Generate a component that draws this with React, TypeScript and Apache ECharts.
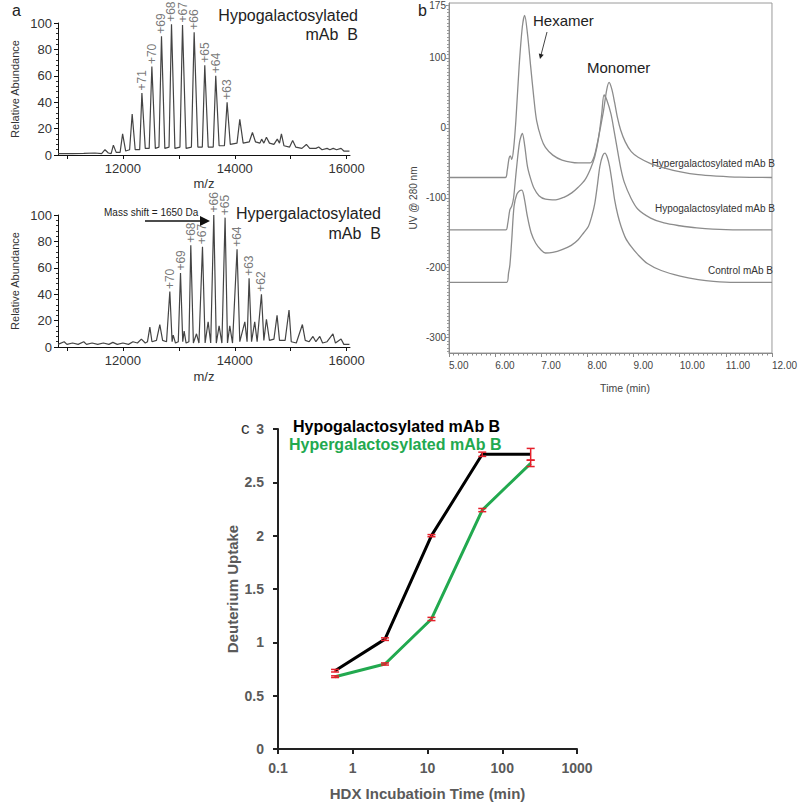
import React, { useEffect, useRef } from "react";
import * as echarts from "echarts";

const FONT = '"Liberation Sans", Arial, sans-serif';

// ---------- Panel a: mass spectra ----------
const hypoSpectrum: [number, number][] = [
  [10840, 1], [11100, 1], [11300, 1.2], [11500, 1.5], [11620, 1], [11680, 4], [11740, 1.5], [11790, 1],
  [11830, 7.5], [11880, 2], [11950, 2], [11995, 16], [12050, 3], [12120, 4], [12166, 31], [12220, 4],
  [12300, 4], [12340, 47], [12400, 5], [12470, 5], [12518, 67], [12580, 5], [12645, 6], [12690, 90],
  [12750, 5], [12825, 6], [12869, 99], [12930, 5], [13020, 6], [13066, 98.5], [13130, 5], [13225, 6],
  [13274, 93], [13340, 6], [13420, 6], [13464, 68], [13525, 6], [13615, 6], [13660, 60], [13720, 7],
  [13815, 7], [13863, 40], [13920, 8], [14040, 9], [14090, 27], [14150, 9], [14260, 10], [14316, 17],
  [14370, 10], [14450, 9], [14480, 12], [14520, 9], [14566, 13.5], [14620, 9], [14700, 8], [14760, 12],
  [14800, 9], [14834, 16], [14880, 7], [14980, 6], [15035, 11], [15090, 6], [15200, 5], [15280, 8],
  [15340, 5], [15450, 5], [15500, 6], [15560, 4], [15650, 5], [15700, 4], [15760, 5], [15820, 4],
  [15900, 5], [15950, 3], [16050, 3],
];
const hyperSpectrum: [number, number][] = [
  [10840, 2], [10950, 4], [11000, 2], [11100, 3], [11200, 2], [11300, 4], [11350, 2], [11450, 3],
  [11550, 2], [11650, 3], [11750, 2], [11820, 3.5], [11900, 2], [12000, 3], [12100, 2], [12180, 4],
  [12260, 3], [12330, 6], [12400, 3], [12440, 4], [12482, 15], [12520, 4], [12600, 5], [12660, 17],
  [12710, 5], [12780, 4], [12839, 42], [12880, 4], [12900, 9], [12940, 3], [12990, 4], [13030, 56],
  [13070, 4], [13095, 12], [13130, 3], [13180, 4], [13214, 77], [13260, 3], [13316, 10], [13360, 3],
  [13423, 76], [13470, 3], [13524, 19], [13570, 3], [13625, 100], [13670, 3], [13720, 16], [13770, 3],
  [13827, 98], [13870, 3], [13911, 16], [13960, 3], [14041, 74], [14090, 4], [14180, 19], [14220, 4],
  [14256, 52], [14300, 4], [14357, 19], [14400, 4], [14477, 40], [14520, 5], [14566, 21], [14620, 5],
  [14700, 6], [14756, 24], [14800, 5], [14900, 5], [14970, 28], [15010, 4], [15100, 3], [15209, 17],
  [15260, 5], [15330, 4], [15398, 8], [15450, 4], [15520, 8], [15570, 3], [15650, 4], [15755, 10],
  [15800, 3], [15900, 6], [15950, 2], [16050, 2],
];
const hypoChargeLabels = ["+71", "+70", "+69", "+68", "+67", "+66", "+65", "+64", "+63"];
const hypoChargeMz = [12340, 12518, 12690, 12869, 13066, 13274, 13464, 13660, 13863];
const hypoChargeAb = [47, 67, 90, 99, 98.5, 93, 68, 60, 40];
const hyperChargeLabels = ["+70", "+69", "+68", "+67", "+66", "+65", "+64", "+63", "+62"];
const hyperChargeMz = [12839, 13030, 13214, 13423, 13625, 13827, 14041, 14256, 14477];
const hyperChargeAb = [42, 56, 77, 76, 100, 98, 74, 52, 40];
const mzTicks = [11000, 12000, 13000, 14000, 15000, 16000];
const mzLabels = [12000, 14000, 16000];

// ---------- Panel b: SEC traces ----------
const hyperSec: [number, number][] = [
  [5.0, -71], [6.22, -71], [6.26, -62], [6.3, -44], [6.33, -40], [6.36, -45], [6.4, -30], [6.45, 11],
  [6.52, 88], [6.59, 145], [6.64, 161], [6.7, 135], [6.77, 88], [6.84, 42], [6.9, 10], [7.0, -15],
  [7.09, -28], [7.25, -39], [7.45, -46], [7.8, -50], [8.06, -50], [8.15, -40], [8.23, -17], [8.34, 21],
  [8.42, 55], [8.47, 65], [8.53, 55], [8.59, 36], [8.65, 15], [8.72, -3], [8.82, -20], [8.95, -34],
  [9.1, -42], [9.37, -51], [9.7, -58], [10.02, -63], [10.4, -67], [10.8, -69], [11.3, -70.5], [12.0, -71],
];
const hypoSec: [number, number][] = [
  [5.0, -146], [6.23, -146], [6.27, -138], [6.32, -117], [6.36, -112], [6.4, -100], [6.46, -60],
  [6.53, -20], [6.59, -8], [6.64, -25], [6.7, -55], [6.77, -73], [6.84, -86], [6.95, -97], [7.09, -102],
  [7.31, -103], [7.5, -99], [7.66, -93], [7.8, -85], [7.95, -74], [8.07, -58], [8.16, -41], [8.24, -15],
  [8.31, 20], [8.36, 47], [8.42, 40], [8.51, 20], [8.58, -5], [8.66, -35], [8.73, -60], [8.8, -78],
  [8.94, -100], [9.09, -116], [9.37, -129], [9.66, -136], [10.0, -140], [10.37, -143], [11.0, -145.5],
  [12.0, -146],
];
const controlSec: [number, number][] = [
  [5.0, -221], [6.25, -221], [6.29, -208], [6.32, -196], [6.36, -160], [6.41, -112], [6.47, -95],
  [6.53, -90], [6.58, -89], [6.63, -100], [6.7, -127], [6.78, -150], [6.88, -165], [7.0, -175],
  [7.09, -179], [7.25, -178], [7.45, -174], [7.65, -168], [7.8, -160], [7.92, -150], [8.02, -141],
  [8.1, -125], [8.16, -108], [8.22, -80], [8.27, -55], [8.33, -40], [8.38, -36], [8.43, -42], [8.48, -55],
  [8.54, -80], [8.59, -103], [8.66, -125], [8.73, -141], [8.83, -158], [8.95, -170], [9.09, -181],
  [9.3, -194], [9.6, -204], [10.01, -212], [10.4, -217], [10.73, -219.6], [11.2, -221], [12.0, -221],
];
const secYLabels = [175, 100, 0, -100, -200, -300];

// ---------- Panel c: HDX uptake ----------
const hdxTimes = [0.58, 2.7, 11.3, 54, 240];
const hypoUptake = [0.734, 1.03, 2.0, 2.763, 2.763];
const hypoErr = [0.012, 0.012, 0.01, 0.02, 0.055];
const hyperUptake = [0.678, 0.797, 1.219, 2.24, 2.678];
const hyperErr = [0.008, 0.01, 0.015, 0.015, 0.03];

const GREEN = "#22a94f";
const RED = "#e5202b";

function errorBarSeries(xs: number[], ys: number[], es: number[]) {
  return {
    type: "custom",
    xAxisIndex: 3,
    yAxisIndex: 3,
    z: 5,
    data: xs.map((x, i) => [x, ys[i], es[i]]),
    encode: { x: 0, y: 1 },
    renderItem: (_p: any, api: any) => {
      const x = api.value(0);
      const y = api.value(1);
      const e = api.value(2);
      const top = api.coord([x, y + e]);
      const bot = api.coord([x, y - e]);
      const hw = 4;
      const style = { stroke: RED, lineWidth: 1.5 };
      return {
        type: "group",
        children: [
          { type: "line", shape: { x1: top[0], y1: top[1], x2: bot[0], y2: bot[1] }, style },
          { type: "line", shape: { x1: top[0] - hw, y1: top[1], x2: top[0] + hw, y2: top[1] }, style },
          { type: "line", shape: { x1: bot[0] - hw, y1: bot[1], x2: bot[0] + hw, y2: bot[1] }, style },
        ],
      };
    },
  };
}

function chargeSeries(idx: number, mz: number[], ab: number[], labels: string[]) {
  return {
    type: "scatter",
    xAxisIndex: idx,
    yAxisIndex: idx,
    symbolSize: 1,
    itemStyle: { color: "rgba(0,0,0,0)" },
    data: mz.map((m, i) => [m, ab[i], labels[i]]),
    label: {
      show: true,
      position: "top",
      distance: 2,
      rotate: 90,
      align: "left",
      verticalAlign: "middle",
      formatter: (p: any) => p.data[2],
      fontSize: 12,
      fontFamily: FONT,
      color: "#555",
    },
    z: 4,
  };
}

function specXAxis(gridIndex: number, nameGap: number) {
  return {
    gridIndex,
    type: "value",
    min: 10840,
    max: 16060,
    axisLine: { show: true, lineStyle: { color: "#111", width: 1 } },
    axisTick: { show: true, customValues: mzTicks, length: 4, lineStyle: { color: "#111" } },
    axisLabel: {
      customValues: mzLabels,
      fontSize: 13,
      color: "#333",
      margin: 7,
      fontFamily: FONT,
      formatter: (v: number) => String(v),
    },
    splitLine: { show: false },
    name: "m/z",
    nameLocation: "middle",
    nameGap,
    nameTextStyle: { fontSize: 13, color: "#333", fontFamily: FONT },
  };
}

function specYAxis(gridIndex: number) {
  return {
    gridIndex,
    type: "value",
    min: 0,
    max: 100,
    interval: 20,
    axisLine: { show: true, lineStyle: { color: "#111", width: 1 } },
    axisTick: { show: true, length: 4, lineStyle: { color: "#111" } },
    minorTick: { show: true, splitNumber: 5, length: 2, lineStyle: { color: "#333" } },
    axisLabel: { fontSize: 13, color: "#333", margin: 6, fontFamily: FONT },
    splitLine: { show: false },
    name: "Relative Abundance",
    nameLocation: "middle",
    nameGap: 38,
    nameRotate: 90,
    nameTextStyle: { fontSize: 11, color: "#333", fontFamily: FONT },
  };
}

const txt = (x: number, y: number, text: string, opts: any = {}) => ({
  type: "text",
  x,
  y,
  style: {
    text,
    fontFamily: FONT,
    fontSize: opts.fontSize ?? 12,
    fontWeight: opts.fontWeight ?? "normal",
    fill: opts.fill ?? "#222",
    align: opts.align ?? "left",
    verticalAlign: opts.verticalAlign ?? "middle",
  },
  rotation: opts.rotation ?? 0,
  silent: true,
});

export default function App() {
  const ref = useRef<HTMLDivElement>(null);
  useEffect(() => {
    if (!ref.current) return;
    const chart = echarts.init(ref.current, undefined, { renderer: "svg" });
    const option: any = {
      animation: false,
      backgroundColor: "#ffffff",
      grid: [
        { left: 58, top: 23, width: 292, height: 132 },
        { left: 58, top: 215, width: 292, height: 132 },
        { left: 449, top: 3, width: 327, height: 350, show: true, borderColor: "#9a9a9a", borderWidth: 1 },
        { left: 278, top: 429, width: 299, height: 320 },
      ],
      xAxis: [
        specXAxis(0, 22),
        specXAxis(1, 23),
        {
          gridIndex: 2,
          type: "value",
          min: 5,
          max: 12,
          interval: 1,
          axisLine: { show: true, onZero: false, lineStyle: { color: "#8a8a8a" } },
          axisTick: { show: true, length: 4, lineStyle: { color: "#8a8a8a" } },
          minorTick: { show: true, splitNumber: 10, length: 2.5, lineStyle: { color: "#8a8a8a" } },
          axisLabel: {
            formatter: (v: number) => v.toFixed(2),
            align: "left",
            fontSize: 10,
            color: "#444",
            margin: 7,
            fontFamily: FONT,
            showMaxLabel: true,
          },
          splitLine: { show: false },
        },
        {
          gridIndex: 3,
          type: "log",
          logBase: 10,
          min: 0.1,
          max: 1000,
          axisLine: { show: true, onZero: false, lineStyle: { color: "#222", width: 2 } },
          axisTick: { show: true, length: 5, lineStyle: { color: "#222", width: 2 } },
          axisLabel: {
            fontSize: 14,
            fontWeight: "bold",
            color: "#5a5a5a",
            margin: 12,
            fontFamily: FONT,
            formatter: (v: number) => String(Math.round(v * 10) / 10),
          },
          splitLine: { show: false },
          minorTick: { show: false },
          name: "HDX Incubatioin Time (min)",
          nameLocation: "middle",
          nameGap: 37,
          nameTextStyle: { fontSize: 15, fontWeight: "bold", color: "#5a5a5a", fontFamily: FONT },
        },
      ],
      yAxis: [
        specYAxis(0),
        specYAxis(1),
        {
          gridIndex: 2,
          type: "value",
          min: -322,
          max: 178.6,
          axisLine: { show: true, onZero: false, lineStyle: { color: "#8a8a8a" } },
          axisTick: { show: true, customValues: secYLabels, length: 3, lineStyle: { color: "#8a8a8a" } },
          minorTick: { show: true, splitNumber: 20, length: 2, lineStyle: { color: "#9a9a9a" } },
          axisLabel: { customValues: secYLabels, fontSize: 10, color: "#444", margin: 3, fontFamily: FONT },
          splitLine: { show: false },
        },
        {
          gridIndex: 3,
          type: "value",
          min: 0,
          max: 3,
          interval: 0.5,
          axisLine: { show: true, onZero: false, lineStyle: { color: "#222", width: 2 } },
          axisTick: { show: true, length: 5, lineStyle: { color: "#222", width: 2 } },
          axisLabel: { fontSize: 14, fontWeight: "bold", color: "#5a5a5a", margin: 14, fontFamily: FONT },
          splitLine: { show: false },
          name: "Deuterium Uptake",
          nameLocation: "middle",
          nameGap: 38,
          nameRotate: 90,
          nameTextStyle: { fontSize: 15, fontWeight: "bold", color: "#5a5a5a", fontFamily: FONT },
        },
      ],
      series: [
        {
          type: "line",
          xAxisIndex: 0,
          yAxisIndex: 0,
          data: hypoSpectrum,
          showSymbol: false,
          lineStyle: { color: "#444", width: 1.2 },
        },
        chargeSeries(0, hypoChargeMz, hypoChargeAb, hypoChargeLabels),
        {
          type: "line",
          xAxisIndex: 1,
          yAxisIndex: 1,
          data: hyperSpectrum,
          showSymbol: false,
          lineStyle: { color: "#444", width: 1.2 },
        },
        chargeSeries(1, hyperChargeMz, hyperChargeAb, hyperChargeLabels),
        ...[hyperSec, hypoSec, controlSec].map((d) => ({
          type: "line",
          xAxisIndex: 2,
          yAxisIndex: 2,
          data: d,
          showSymbol: false,
          smooth: 0.3,
          lineStyle: { color: "#8c8c8c", width: 1.3 },
        })),
        {
          type: "line",
          xAxisIndex: 3,
          yAxisIndex: 3,
          data: hdxTimes.map((t, i) => [t, hyperUptake[i]]),
          showSymbol: false,
          lineStyle: { color: GREEN, width: 3 },
        },
        {
          type: "line",
          xAxisIndex: 3,
          yAxisIndex: 3,
          data: hdxTimes.map((t, i) => [t, hypoUptake[i]]),
          showSymbol: false,
          lineStyle: { color: "#000", width: 3 },
        },
        errorBarSeries(hdxTimes, hyperUptake, hyperErr),
        errorBarSeries(hdxTimes, hypoUptake, hypoErr),
      ],
      graphic: [
        // panel a
        txt(12, 10, "a", { fontSize: 16 }),
        txt(358, 15, "Hypogalactosylated", { fontSize: 16, align: "right" }),
        txt(358, 34, "mAb  B", { fontSize: 16, align: "right" }),
        txt(381, 213, "Hypergalactosylated", { fontSize: 16, align: "right" }),
        txt(381, 233, "mAb  B", { fontSize: 16, align: "right" }),
        txt(104, 212, "Mass shift = 1650 Da", { fontSize: 10 }),
        {
          type: "line",
          shape: { x1: 145, y1: 221, x2: 201, y2: 221 },
          style: { stroke: "#111", lineWidth: 1.5 },
          silent: true,
        },
        {
          type: "polygon",
          shape: { points: [[200, 216], [210, 221], [200, 226]] },
          style: { fill: "#111" },
          silent: true,
        },
        // panel b
        txt(418, 10, "b", { fontSize: 16 }),
        txt(533, 20, "Hexamer", { fontSize: 15 }),
        txt(587, 67, "Monomer", { fontSize: 15 }),
        {
          type: "line",
          shape: { x1: 547, y1: 32, x2: 541, y2: 55 },
          style: { stroke: "#444", lineWidth: 1 },
          silent: true,
        },
        {
          type: "polygon",
          shape: { points: [[540, 59], [543.7, 54.8], [538.8, 53.6]] },
          style: { fill: "#222" },
          silent: true,
        },
        txt(413, 198, "UV @ 280 nm", { fontSize: 10, fill: "#444", align: "center", rotation: Math.PI / 2 }),
        txt(625, 388, "Time (min)", { fontSize: 10.5, fill: "#444", align: "center" }),
        txt(775, 163, "Hypergalactosylated mAb B", { fontSize: 10, fill: "#333", align: "right" }),
        txt(775, 208, "Hypogalactosylated mAb B", { fontSize: 10, fill: "#333", align: "right" }),
        txt(773, 270, "Control mAb B", { fontSize: 10, fill: "#333", align: "right" }),
        // panel c
        txt(241, 428, "c", { fontSize: 17, fill: "#333" }),
        txt(293, 426, "Hypogalactosylated mAb B", { fontSize: 16, fontWeight: "bold", fill: "#000" }),
        txt(289, 444, "Hypergalactosylated mAb B", { fontSize: 16, fontWeight: "bold", fill: GREEN }),
      ],
    };
    chart.setOption(option);
    return () => chart.dispose();
  }, []);
  return (
    <div
      ref={ref}
      style={{ position: "absolute", left: 0, top: 0, width: 800, height: 805, background: "#fff" }}
    />
  );
}
